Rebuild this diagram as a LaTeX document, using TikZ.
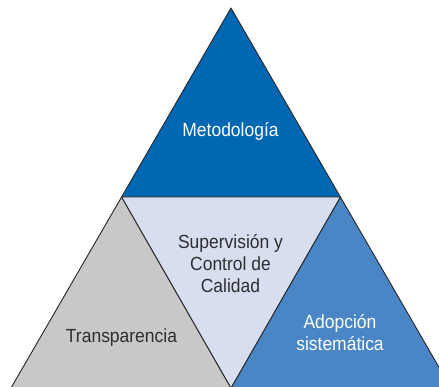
\documentclass[tikz,border=0pt]{standalone}
\usepackage{fontspec}
\setmainfont{Liberation Sans}[FakeStretch=0.92]

\definecolor{metblue}{HTML}{0067B3}
\definecolor{adoblue}{HTML}{4A86C6}
\definecolor{supblue}{HTML}{D6DEF0}
\definecolor{tragray}{HTML}{C8C8C9}
\definecolor{txtgray}{HTML}{2E2E30}

\begin{document}
\begin{tikzpicture}[x=1pt,y=1pt,line join=round]
      \tikzstyle{face}=[draw=black!85,line width=0.9pt]
      \tikzstyle{txt}=[font=\fontsize{19}{22}\selectfont,align=center,anchor=base,inner sep=0pt]

      \useasboundingbox (0,0) rectangle (439,386);
      \clip (0,0) rectangle (439,386);

      % corners and midpoints of the big triangle (bottom runs past the edge)
      \coordinate (top) at (231,378);
      \coordinate (bl)  at (11,-2);
      \coordinate (br)  at (451,-2);
      \coordinate (ml)  at (121.6,189);
      \coordinate (mr)  at (340.4,189);
      \coordinate (mb)  at (231,-2);

      \filldraw[face,fill=metblue] (top) -- (mr) -- (ml) -- cycle;
      \filldraw[face,fill=tragray] (ml) -- (mb) -- (bl) -- cycle;
      \filldraw[face,fill=adoblue] (mr) -- (br) -- (mb) -- cycle;
      \filldraw[face,fill=supblue] (ml) -- (mr) -- (mb) -- cycle;

      % labels, anchored at the baseline of their last line
      \node[txt,text=white]   (met) at (230.5,249) {Metodología};
      \node[txt,text=txtgray] (sup) at (230.5,94)  {Supervisión y\\Control de\\Calidad};
      \node[txt,text=txtgray] (tra) at (121.5,44)  {Transparencia};
      \node[txt,text=white]   (ado) at (340,36)    {Adopción\\sistemática};

    \end{tikzpicture}
\end{document}
